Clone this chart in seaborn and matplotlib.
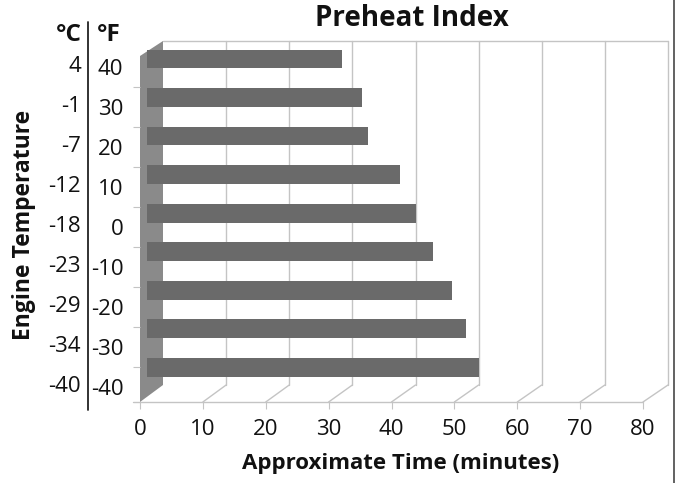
import numpy as np
import pandas as pd
import matplotlib
matplotlib.use("Agg")
import matplotlib.pyplot as plt
import matplotlib.transforms as mtransforms
from matplotlib.patches import Polygon
import seaborn as sns

# ---- data ----
temps_f = ["40", "30", "20", "10", "0", "-10", "-20", "-30", "-40"]
temps_c = ["4", "-1", "-7", "-12", "-18", "-23", "-29", "-34", "-40"]
minutes = [30.9, 34.2, 35.1, 40.2, 42.7, 45.5, 48.4, 50.7, 52.7]
x_ticks = [0, 10, 20, 30, 40, 50, 60, 70, 80]
title = "Preheat Index"
x_label = "Approximate Time (minutes)"
y_label = "Engine Temperature"

df = pd.DataFrame({"temp_f": temps_f, "temp_c": temps_c, "minutes": minutes})

sns.set_theme(style="white")
plt.rcParams["font.family"] = ["Open Sans", "DejaVu Sans"]

W, H = 675, 483
fig = plt.figure(figsize=(W / 100, H / 100), dpi=100)
fig.patch.set_facecolor("white")


def rect(left, top, right, bottom):
    return [left / W, (H - bottom) / H, (right - left) / W, (bottom - top) / H]


# ---- decoration layer in pixel coordinates ----
deco = fig.add_axes([0, 0, 1, 1])
deco.set_xlim(0, W)
deco.set_ylim(H, 0)
deco.axis("off")

front_l, front_r, front_y = 140, 643, 402
back_l, back_r, back_y, top_y = 163, 668, 385, 41
grid_c = "#c4c4c4"

# wall
deco.add_patch(Polygon([(front_l, front_y), (back_l, back_y), (back_l, top_y),
                        (front_l, 56)], closed=True, facecolor="#8a8a8a",
                       edgecolor="none", zorder=1))
for v in x_ticks:
    xf = front_l + v * (front_r - front_l) / 80
    xb = back_l + v * (back_r - back_l) / 80
    if v > 0:
        deco.plot([xb, xb], [back_y, top_y], color=grid_c, lw=1, zorder=0.5)
        deco.plot([xf, xb], [front_y, back_y], color=grid_c, lw=1, zorder=0.5)
deco.plot([back_l, back_r], [top_y, top_y], color=grid_c, lw=1, zorder=0.5)
deco.plot([133, front_r], [front_y, front_y], color=grid_c, lw=1, zorder=0.5)
# separator between °C and °F columns
deco.plot([88, 88], [22, 410], color="#222222", lw=1.3)
# outer right border
deco.plot([673.5, 673.5], [0, H], color="#555555", lw=1.3)

# ---- front axes: tick labels ----
axf = fig.add_axes(rect(front_l, 47, front_r, front_y))
axf.patch.set_alpha(0)
axf.set_xlim(0, 80)
axf.set_ylim(len(temps_f) - 1 + 0.375, -0.5)
for s in axf.spines.values():
    s.set_visible(False)
axf.set_xticks(x_ticks)
axf.set_xticklabels([str(v) for v in x_ticks])
axf.tick_params(axis="x", length=5, width=0.8, color=grid_c, pad=7,
                labelsize=16, labelcolor="#111111", bottom=True)
axf.set_yticks(range(len(temps_f)))
axf.set_yticklabels(temps_f)
axf.set_yticks([i + 0.5 for i in range(len(temps_f) - 1)], minor=True)
axf.tick_params(axis="y", which="major", length=0, pad=12, labelsize=16,
                labelcolor="#111111", left=True)
axf.tick_params(axis="y", which="minor", length=5, width=0.8, color=grid_c, left=True)
axf.grid(False)

tr = mtransforms.blended_transform_factory(fig.transFigure, axf.transData)
for i, c in enumerate(temps_c):
    axf.text(81 / W, i, c, transform=tr, ha="right", va="center",
             fontsize=16, color="#111111")

fig.text(82 / W, 1 - 35 / H, "°C", ha="right", va="center", fontsize=17.5,
         fontweight="bold", color="#111111")
fig.text(97 / W, 1 - 35 / H, "°F", ha="left", va="center", fontsize=17.5,
         fontweight="bold", color="#111111")
fig.text(412 / W, 1 - 18 / H, title, ha="center", va="center", fontsize=20,
         fontweight="bold", color="#111111")
fig.text(401 / W, 1 - 464 / H, x_label, ha="center", va="center", fontsize=16,
         fontweight="bold", color="#111111")
fig.text(24 / W, 1 - 225 / H, y_label, ha="center", va="center", fontsize=16.5,
         fontweight="bold", rotation=90, color="#111111")

# ---- bar axes ----
axb = fig.add_axes(rect(147, top_y, 147 + 6.295 * 80, 386))
axb.patch.set_alpha(0)
sns.barplot(data=df, x="minutes", y="temp_f", order=temps_f, orient="h",
            color="#6a6a6a", width=0.49, saturation=1, linewidth=0,
            ax=axb, zorder=3)
axb.set_xlim(0, 80)
axb.set_ylim(8.49, -0.468)
axb.axis("off")

fig.savefig("out.png", dpi=100, facecolor="white")
